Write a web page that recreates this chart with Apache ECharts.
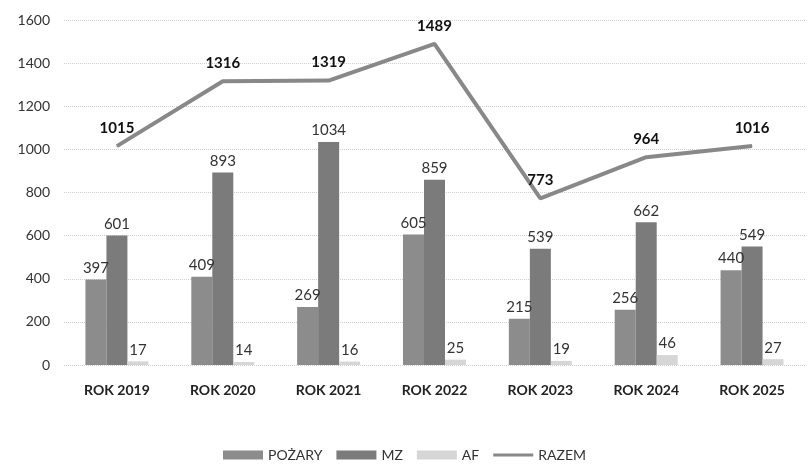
<!DOCTYPE html>
<html><head><meta charset="utf-8">
<script src="https://cdn.jsdelivr.net/npm/echarts@6/dist/echarts.min.js"></script>
<style>html,body{margin:0;padding:0;background:#fff}#c{width:809px;height:469px}</style>
</head><body><div id="c"></div>
<script>
const categories = ['ROK 2019','ROK 2020','ROK 2021','ROK 2022','ROK 2023','ROK 2024','ROK 2025'];
const pozary = [397, 409, 269, 605, 215, 256, 440];
const mz = [601, 893, 1034, 859, 539, 662, 549];
const af = [17, 14, 16, 25, 19, 46, 27];
const razem = [1015, 1316, 1319, 1489, 773, 964, 1016];
const yTicks = [0, 200, 400, 600, 800, 1000, 1200, 1400, 1600];

const font = 'Lato, "Open Sans", sans-serif';
const chart = echarts.init(document.getElementById('c'));
const barLabel = {show: true, position: 'top', color: '#333', fontSize: 15, fontFamily: font, distance: 4};
chart.setOption({
  animation: false,
  textStyle: {fontFamily: font},
  grid: {left: 64, right: 4, top: 20, bottom: 104, containLabel: false},
  legend: {
    bottom: 2, left: 'center', itemWidth: 40, itemHeight: 9, itemGap: 14,
    textStyle: {fontSize: 14, color: '#333', fontFamily: font},
    data: [{name:'POŻARY', icon:'rect'}, {name:'MZ', icon:'rect'}, {name:'AF', icon:'rect'},
           {name:'RAZEM', icon:'path://M0,0H40V3H0Z', itemStyle: {color: '#888'}}]
  },
  xAxis: {
    type: 'category', data: categories,
    axisLine: {show: false}, axisTick: {show: false},
    axisLabel: {fontSize: 14, fontWeight: 'bold', color: '#222', margin: 18, fontFamily: font}
  },
  yAxis: {
    type: 'value', min: 0, max: 1600, interval: 200,
    axisLine: {show: false}, axisTick: {show: false},
    axisLabel: {fontSize: 14, color: '#333', margin: 14, fontFamily: font,
      formatter: v => yTicks.includes(v) ? String(v) : ''},
    splitLine: {lineStyle: {color: '#cfcfcf', type: 'dotted', width: 1}}
  },
  series: [
    {name: 'POŻARY', type: 'bar', data: pozary, barWidth: 21, barGap: '0%',
     itemStyle: {color: '#8c8c8c'}, label: barLabel},
    {name: 'MZ', type: 'bar', data: mz, barWidth: 21,
     itemStyle: {color: '#7b7b7b'}, label: barLabel},
    {name: 'AF', type: 'bar', data: af, barWidth: 21,
     itemStyle: {color: '#d6d6d6'}, label: barLabel},
    {name: 'RAZEM', type: 'line', data: razem, showSymbol: true, symbol: 'circle', symbolSize: 1,
     lineStyle: {color: '#888', width: 4}, itemStyle: {color: '#888'},
     label: {show: true, position: 'top', color: '#111', fontWeight: 'bold', fontSize: 15, fontFamily: font, distance: 10},
     z: 5}
  ]
});
</script></body></html>
